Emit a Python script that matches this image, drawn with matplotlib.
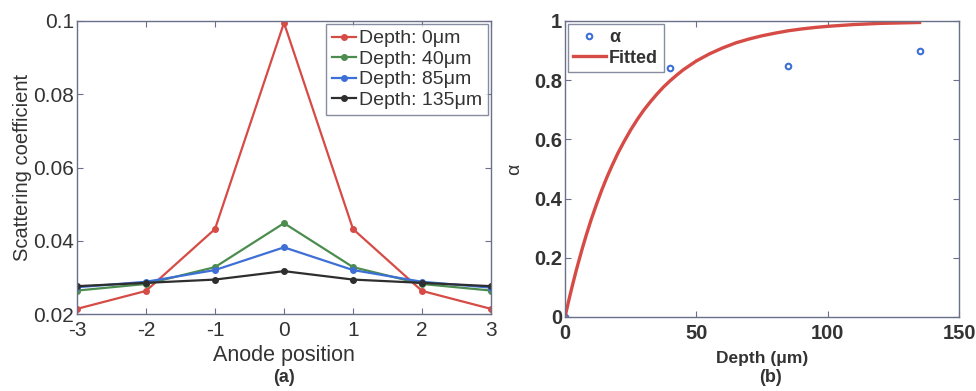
import matplotlib
matplotlib.use("Agg")
import matplotlib.pyplot as plt

plt.rcParams['font.family'] = ['Liberation Sans', 'DejaVu Sans']

# ---- data panel (a) ----
anode_pos = [-3, -2, -1, 0, 1, 2, 3]
depth_labels = ['Depth: 0\u03bcm', 'Depth: 40\u03bcm', 'Depth: 85\u03bcm', 'Depth: 135\u03bcm']
scat_0 = [0.0214, 0.0263, 0.0432, 0.0995, 0.0432, 0.0263, 0.0214]
scat_40 = [0.0264, 0.0282, 0.0328, 0.0448, 0.0328, 0.0282, 0.0264]
scat_85 = [0.0273, 0.0288, 0.0320, 0.0382, 0.0320, 0.0288, 0.0272]
scat_135 = [0.0276, 0.0285, 0.0294, 0.0317, 0.0294, 0.0285, 0.0276]

# ---- data panel (b) ----
alpha_depth = [0, 40, 85, 135]
alpha_vals = [0.0, 0.840, 0.848, 0.899]
fit_depth = [0, 1, 2, 3, 4, 5, 6.5, 8, 10, 12, 14, 16, 18, 20, 22.5, 25, 27.5, 30, 32.5,
             35, 37.5, 40, 42.5, 45, 47.5, 50, 55, 60, 65, 70, 75, 80, 85, 90, 95,
             100, 105, 110, 115, 120, 125, 130, 135]
fit_vals = [0.0, 0.039, 0.077, 0.113, 0.148, 0.181, 0.229, 0.274, 0.330, 0.381,
            0.429, 0.473, 0.513, 0.551, 0.593, 0.632, 0.667, 0.699, 0.727,
            0.753, 0.777, 0.798, 0.817, 0.835, 0.850, 0.865, 0.889, 0.909,
            0.926, 0.939, 0.950, 0.959, 0.967, 0.973, 0.978, 0.982, 0.985,
            0.988, 0.990, 0.992, 0.993, 0.994, 0.995]

colors = ['#d64b45', '#4c8c4f', '#3d6fd6', '#2e2e2e']
txt = '#333333'
spine = '#6a6f8a'

fig = plt.figure(figsize=(9.76, 3.91), dpi=100)
W, H = 976, 391
ax1 = fig.add_axes([77 / W, 1 - 314 / H, (491 - 77) / W, (314 - 21) / H])
ax2 = fig.add_axes([565 / W, 1 - 317 / H, (959 - 565) / W, (317 - 21) / H])

for ys, c, lab in zip([scat_0, scat_40, scat_85, scat_135], colors, depth_labels):
    ax1.plot(anode_pos, ys, color=c, marker='o', markersize=4, linewidth=1.6, label=lab)
ax1.set_xlim(-3, 3)
ax1.set_ylim(0.02, 0.1)
ax1.set_xticks([-3, -2, -1, 0, 1, 2, 3])
ax1.set_xticklabels(['-3', '-2', '-1', '0', '1', '2', '3'])
ax1.set_yticks([0.02, 0.04, 0.06, 0.08, 0.1])
ax1.set_yticklabels(['0.02', '0.04', '0.06', '0.08', '0.1'])
ax1.set_xlabel('Anode position', fontsize=15.5, color=txt, labelpad=4)
ax1.set_ylabel('Scattering coefficient', fontsize=14.5, color=txt, labelpad=1)
leg1 = ax1.legend(loc='upper right', bbox_to_anchor=(1.0, 1.0), fontsize=14, frameon=True,
                  fancybox=False, edgecolor=spine, handlelength=1.25, handletextpad=0.15,
                  borderpad=0.3, labelspacing=0.15, borderaxespad=0.15)
for t in leg1.get_texts():
    t.set_color(txt)

ax2.plot(alpha_depth, alpha_vals, linestyle='none', marker='o', markersize=4,
         markerfacecolor='none', markeredgecolor='#3d6fd6', markeredgewidth=1.5, label='\u03b1')
ax2.plot(fit_depth, fit_vals, color='#d64b45', linewidth=2.4, label='Fitted')
ax2.set_xlim(0, 150)
ax2.set_ylim(0, 1)
ax2.set_xticks([0, 50, 100, 150])
ax2.set_yticks([0, 0.2, 0.4, 0.6, 0.8, 1])
ax2.set_yticklabels(['0', '0.2', '0.4', '0.6', '0.8', '1'])
ax2.set_xlabel('Depth (\u03bcm)', fontsize=12.5, color=txt, fontweight='bold', labelpad=6)
ax2.set_ylabel('\u03b1', fontsize=14, color=txt, labelpad=8)
leg2 = ax2.legend(loc='upper left', frameon=True, fancybox=False, edgecolor=spine,
                  handlelength=1.8, handletextpad=0.2, borderpad=0.3, labelspacing=0.2,
                  borderaxespad=0.15, prop={'weight': 'bold', 'size': 13})
for t in leg2.get_texts():
    t.set_color(txt)

for ax, fs, fw in [(ax1, 15, 'normal'), (ax2, 14.5, 'bold')]:
    ax.tick_params(direction='in', top=True, right=True, length=4, width=0.8,
                   colors=spine, labelcolor=txt, labelsize=fs, pad=2)
    ax.tick_params(axis='x', pad=5)
    for lab in ax.get_xticklabels() + ax.get_yticklabels():
        lab.set_fontweight(fw)
    for s in ax.spines.values():
        s.set_color(spine)
        s.set_linewidth(1.0)

fig.text(284 / W, 1 - 378 / H, '(a)', ha='center', va='center',
         fontsize=13, fontweight='bold', color=txt)
fig.text(770 / W, 1 - 378 / H, '(b)', ha='center', va='center',
         fontsize=13, fontweight='bold', color=txt)

fig.savefig('out.png', dpi=100, facecolor='white')
